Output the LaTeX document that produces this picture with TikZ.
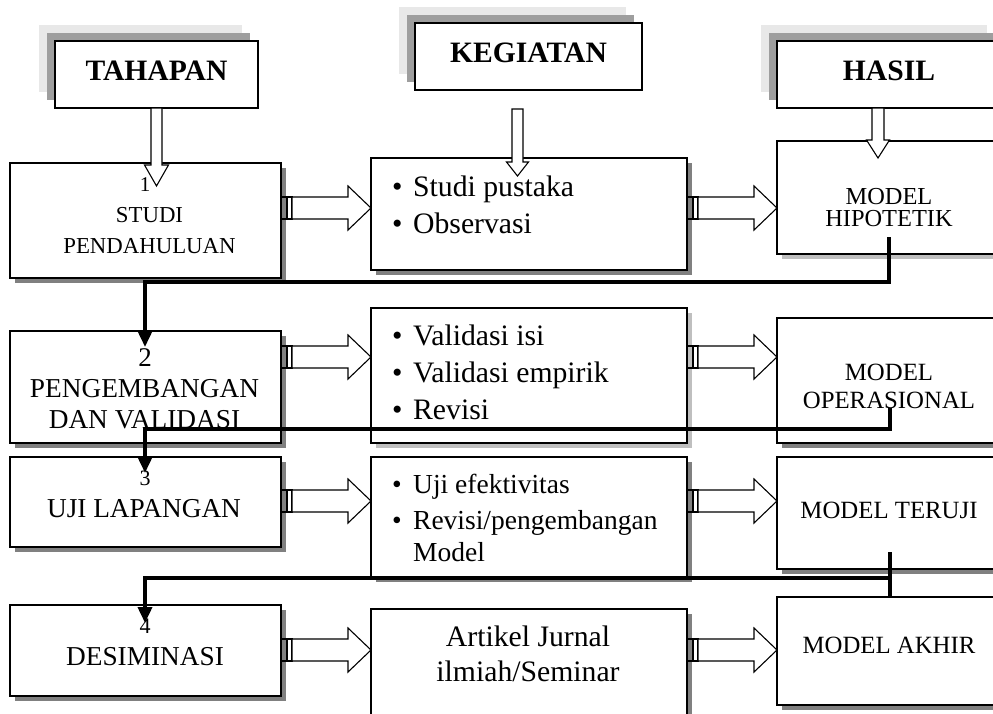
\documentclass[tikz,border=0pt]{standalone}
\usepackage{fontspec}
\setmainfont{Liberation Serif}
\usetikzlibrary{shadows,arrows.meta}
\newcommand{\myfs}[1]{\fontsize{#1}{#1}\selectfont}
\begin{document}
\begin{tikzpicture}[x=1pt,y=-1pt,
  box/.style={draw, line width=1.4pt, fill=white, anchor=north west, inner sep=0pt, outer sep=0pt},
  sh/.style={general shadow={shadow xshift=5pt, shadow yshift=-5pt, fill=black!50}},
  shl/.style={general shadow={shadow xshift=5pt, shadow yshift=-5pt, fill=black!25}},
  hdr/.style={box, line width=2pt,
    general shadow={shadow xshift=-16pt, shadow yshift=16pt, fill=black!9},
    general shadow={shadow xshift=-8pt, shadow yshift=8pt, fill=black!38}},
  txt/.style={inner sep=0pt, anchor=base},
  lt/.style={inner sep=0pt, anchor=base west},
  arrline/.style={draw, line width=1.1pt, fill=white, line join=miter},
  conn/.style={line width=3.6pt, line join=miter},
  tip/.style={-{Triangle[width=14pt,length=16pt]}},
  pics/harr/.style={code={
    \draw[line width=1.1pt] (0,-11) rectangle (6,11);
    \draw[line width=1.1pt] (6,-11) rectangle (11,11);
    \draw[arrline] (11,-11) -- ({#1-23},-11) -- ({#1-23},-22) -- (#1,0) -- ({#1-23},22) -- ({#1-23},11) -- (11,11) -- cycle;
  }}
]
\clip (0,0) rectangle (993,713);
\fill[white] (0,0) rectangle (993,713);

% headers
\node[hdr, minimum width=203pt, minimum height=67pt] (hT) at (55,41) {};
\node[hdr, minimum width=227pt, minimum height=67pt] (hK) at (415,23) {};
\node[hdr, minimum width=226pt, minimum height=67pt] (hH) at (777,41) {};
\node[txt, font=\bfseries\myfs{29.6}] (tT) at (156.5,80) {TAHAPAN};
\node[txt, font=\bfseries\myfs{29.6}] (tK) at (528.5,62) {KEGIATAN};
\node[txt, font=\bfseries\myfs{29.6}] (tH) at (889,80) {HASIL};

% stage boxes
\node[box, sh, minimum width=271pt, minimum height=115pt] (s1) at (10,163) {};
\node[box, sh, minimum width=271pt, minimum height=112pt] (s2) at (10,331) {};
\node[box, sh, minimum width=271pt, minimum height=90pt] (s3) at (10,457) {};
\node[box, sh, minimum width=271pt, minimum height=91pt] (s4) at (10,605) {};

% activity boxes
\node[box, sh, minimum width=316pt, minimum height=112pt] (a1) at (371,158) {};
\node[box, shl, minimum width=316pt, minimum height=135pt] (a2) at (371,308) {};
\node[box, sh, minimum width=316pt, minimum height=120pt] (a3) at (371,457) {};
\node[box, sh, minimum width=316pt, minimum height=125pt] (a4) at (371,609) {};

% result boxes
\node[box, shl, minimum width=226pt, minimum height=113pt] (r1) at (777,141) {};
\node[box, sh, minimum width=226pt, minimum height=125pt] (r2) at (777,318) {};
\node[box, sh, minimum width=226pt, minimum height=112pt] (r3) at (777,457) {};
\node[box, sh, minimum width=226pt, minimum height=108pt] (r4) at (777,597) {};

% stage texts
\node[txt, font=\myfs{21}] (n1) at (145,191) {1};
\node[txt, font=\myfs{22.8}] (s1a) at (149.5,222) {STUDI};
\node[txt, font=\myfs{22.8}] (s1b) at (149.5,253) {PENDAHULUAN};
\node[txt, font=\myfs{27}] (n2) at (145,366) {2};
\node[txt, font=\myfs{27.3}] (s2a) at (144.5,397) {PENGEMBANGAN};
\node[txt, font=\myfs{27.3}] (s2b) at (144.5,428) {DAN VALIDASI};
\node[txt, font=\myfs{22}] (n3) at (145,485) {3};
\node[txt, font=\myfs{27.3}] (s3a) at (144,517) {UJI LAPANGAN};
\node[txt, font=\myfs{22}] (n4) at (145,633) {4};
\node[txt, font=\myfs{27.3}] (s4a) at (145,665) {DESIMINASI};

% activity texts
\node[lt, font=\myfs{29.7}] (a1a) at (392,196) {\makebox[21pt][l]{\textbullet}Studi pustaka};
\node[lt, font=\myfs{29.7}] (a1b) at (392,233) {\makebox[21pt][l]{\textbullet}Observasi};
\node[lt, font=\myfs{29.7}] (a2a) at (392,345) {\makebox[21pt][l]{\textbullet}Validasi isi};
\node[lt, font=\myfs{29.7}] (a2b) at (392,382) {\makebox[21pt][l]{\textbullet}Validasi empirik};
\node[lt, font=\myfs{29.7}] (a2c) at (392,419) {\makebox[21pt][l]{\textbullet}Revisi};
\node[lt, font=\myfs{27.5}] (a3a) at (392,493) {\makebox[21pt][l]{\textbullet}Uji efektivitas};
\node[lt, font=\myfs{27.5}] (a3b) at (392,529) {\makebox[21pt][l]{\textbullet}Revisi/pengembangan};
\node[lt, font=\myfs{27.5}] (a3c) at (413,561) {Model};
\node[txt, font=\myfs{29.7}] (a4a) at (528,646) {Artikel Jurnal};
\node[txt, font=\myfs{29.7}] (a4b) at (528,681) {ilmiah/Seminar};

% result texts
\node[inner sep=0pt, anchor=center, align=center, font={\fontsize{24.4}{22.5}\selectfont}] (r1a) at (889,207.5) {MODEL\\HIPOTETIK};
\node[txt, font=\myfs{24.8}] (r2a) at (889,380) {MODEL};
\node[txt, font=\myfs{24.8}] (r2b) at (889,408) {OPERASIONAL};
\node[txt, font=\myfs{24.8}] (r3a) at (889,518) {MODEL TERUJI};
\node[txt, font=\myfs{24.8}] (r4a) at (889,653) {MODEL AKHIR};

% vertical hollow arrows from headers
\coordinate (vT) at (156.5,108);
\coordinate (vK) at (517.5,109);
\coordinate (vH) at (878,108);
\draw[arrline, shift={(vT)}] (-5.5,0) -- (-5.5,57) -- (-12,57) -- (0,78) -- (12,57) -- (5.5,57) -- (5.5,0) -- cycle;
\draw[arrline, shift={(vK)}] (-5.5,0) -- (-5.5,53) -- (-11,53) -- (0,67) -- (11,53) -- (5.5,53) -- (5.5,0) -- cycle;
\draw[arrline, shift={(vH)}] (-6,0) -- (-6,32) -- (-11.5,32) -- (0,50) -- (11.5,32) -- (6,32) -- (6,0) -- cycle;

% horizontal hollow arrows
\coordinate (p1) at (281,208);
\coordinate (q1) at (687,208);
\coordinate (p2) at (281,357);
\coordinate (q2) at (687,357);
\coordinate (p3) at (281,501);
\coordinate (q3) at (687,501);
\coordinate (p4) at (281,650);
\coordinate (q4) at (687,650);
\pic at (p1) {harr=90};
\pic at (q1) {harr=90};
\pic at (p2) {harr=90};
\pic at (q2) {harr=90};
\pic at (p3) {harr=90};
\pic at (q3) {harr=90};
\pic at (p4) {harr=90};
\pic at (q4) {harr=90};

% connectors between stages
\coordinate (k1a) at (889,237);
\coordinate (k1m) at (145,282);
\coordinate (k1e) at (145,347);
\draw[conn, tip] (k1a) |- (k1m) -- (k1e);
\coordinate (k2a) at (890,408);
\coordinate (k2m) at (145,429);
\coordinate (k2e) at (145,473);
\draw[conn, tip] (k2a) |- (k2m) -- (k2e);
\coordinate (k3a) at (890,552);
\coordinate (k3b) at (890,597);
\coordinate (k3j) at (890,578);
\coordinate (k3e) at (145,623);
\draw[conn] (k3a) -- (k3b);
\draw[conn, tip] (k3j) -| (k3e);
\end{tikzpicture}
\end{document}
